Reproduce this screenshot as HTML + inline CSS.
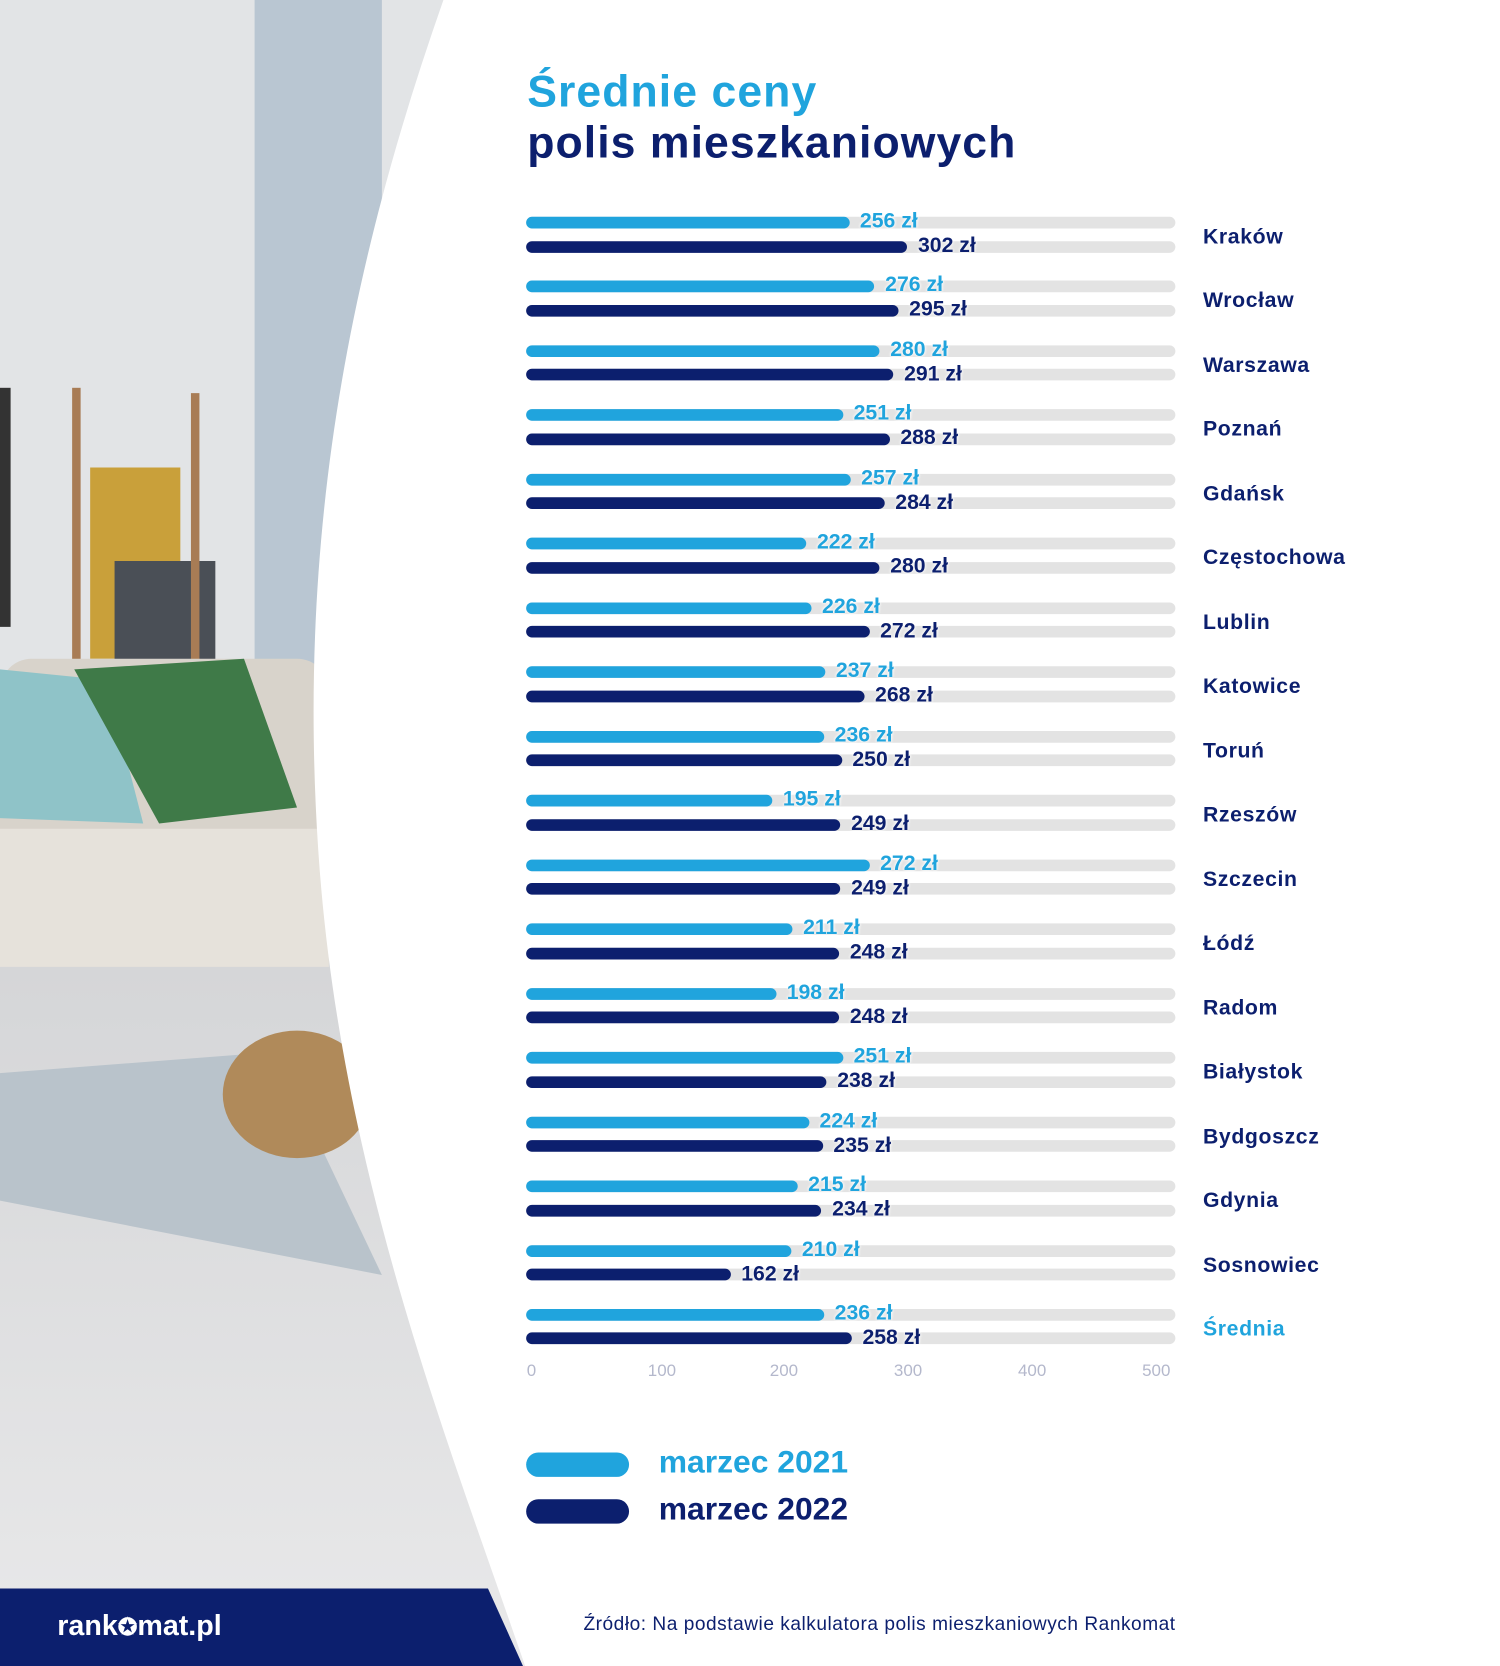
<!DOCTYPE html>
<html><head><meta charset="utf-8"><style>
html,body{margin:0;padding:0;width:1500px;height:1666px;overflow:hidden;background:#fff}
#w{position:absolute;left:0;top:0;width:1414px;height:1568px;transform:scale(1.0608,1.0625);transform-origin:0 0;font-family:"Liberation Sans",sans-serif}
.t{position:absolute;height:11px;border-radius:6px;background:#e3e3e3;left:496px;width:612px}
.b{position:absolute;height:11px;border-radius:6px;left:496px}
.l{background:#20a4dd}.d{background:#0c1f6e}
.v{position:absolute;font-weight:bold;font-size:20px;line-height:20px;white-space:nowrap;text-shadow:0 0 3px #fff,0 0 3px #fff}
.vl{color:#20a4dd}.vd{color:#0c1f6e}
.c{position:absolute;left:1134px;font-weight:bold;font-size:20px;color:#0c1f6e;line-height:20px;letter-spacing:0.6px}
.ax{position:absolute;top:1282px;font-size:16px;color:#b4b8cc;transform:translateX(-50%)}
</style></head><body><div id="w">
<svg width="1414" height="1568" style="position:absolute;left:0;top:0">
<defs><linearGradient id="fl" x1="0" y1="0" x2="0" y2="1"><stop offset="0" stop-color="#d4d5d7"/><stop offset="1" stop-color="#e9e9ea"/></linearGradient></defs>
<rect x="0" y="0" width="500" height="1568" fill="#e2e4e6"/>
<rect x="240" y="0" width="120" height="700" fill="#b9c6d2"/>
<rect x="0" y="880" width="500" height="688" fill="url(#fl)"/>
<polygon points="0,1010 260,990 360,1200 0,1130" fill="#b9c3cb"/>
<rect x="0" y="365" width="10" height="225" fill="#333"/>
<rect x="85" y="440" width="85" height="180" fill="#c9a03a"/>
<rect x="108" y="528" width="95" height="95" fill="#4a4f56"/>
<rect x="68" y="365" width="8" height="260" fill="#a87c55"/>
<rect x="180" y="370" width="8" height="255" fill="#a87c55"/>
<rect x="0" y="620" width="310" height="290" rx="30" fill="#d8d3cb"/>
<rect x="0" y="780" width="310" height="130" fill="#e6e2db"/>
<polygon points="0,630 100,640 135,775 0,770" fill="#8fc3c8"/>
<polygon points="70,630 230,620 280,760 150,775" fill="#3f7a48"/>
<ellipse cx="280" cy="1030" rx="70" ry="60" fill="#b08a5a"/>
<path d="M418,0 C330,250 280,500 300,800 C320,1100 420,1350 495,1568 L1414,1568 L1414,0 Z" fill="#fff"/>
<polygon points="0,1495 460,1495 493,1568 0,1568" fill="#0c1f6e"/>
</svg>
<div style="position:absolute;left:54px;top:1515px;color:#fff;font-weight:bold;font-size:27px">rank<span style="font-size:22px">✪</span>mat.pl</div>
<div style="position:absolute;left:497px;top:62px;font-weight:bold;font-size:42px;color:#20a4dd;line-height:48px;letter-spacing:1px">Średnie ceny</div>
<div style="position:absolute;left:497px;top:110px;font-weight:bold;font-size:42px;color:#0c1f6e;line-height:48px;letter-spacing:1px">polis mieszkaniowych</div>
<div id="rows"></div>
<div class="ax" style="left:501px">0</div><div class="ax" style="left:624px">100</div><div class="ax" style="left:739px">200</div><div class="ax" style="left:856px">300</div><div class="ax" style="left:973px">400</div><div class="ax" style="left:1090px">500</div>
<div style="position:absolute;left:496px;top:1367px;width:97px;height:23px;border-radius:12px;background:#20a4dd"></div>
<div style="position:absolute;left:496px;top:1411px;width:97px;height:23px;border-radius:12px;background:#0c1f6e"></div>
<div style="position:absolute;left:621px;top:1360px;font-weight:bold;font-size:30px;color:#20a4dd">marzec 2021</div>
<div style="position:absolute;left:621px;top:1404px;font-weight:bold;font-size:30px;color:#0c1f6e">marzec 2022</div>
<div style="position:absolute;left:550px;top:1518px;font-size:18px;color:#0c1f6e;letter-spacing:0.5px">Źródło: Na podstawie kalkulatora polis mieszkaniowych Rankomat</div>
<script>
var d=[["Kraków",256,302],["Wrocław",276,295],["Warszawa",280,291],["Poznań",251,288],["Gdańsk",257,284],["Częstochowa",222,280],["Lublin",226,272],["Katowice",237,268],["Toruń",236,250],["Rzeszów",195,249],["Szczecin",272,249],["Łódź",211,248],["Radom",198,248],["Białystok",251,238],["Bydgoszcz",224,235],["Gdynia",215,234],["Sosnowiec",210,162],["Średnia",236,258]];
var h="";d.forEach(function(r,i){var y=204+i*60.47;var a=r[1]*1.19,b=r[2]*1.19;
h+='<div class="t" style="top:'+y+'px"></div><div class="t" style="top:'+(y+22.5)+'px"></div>';
h+='<div class="b l" style="top:'+y+'px;width:'+a+'px"></div><div class="b d" style="top:'+(y+22.5)+'px;width:'+b+'px"></div>';
h+='<div class="v vl" style="top:'+(y-6)+'px;left:'+(496+a+10)+'px">'+r[1]+' zł</div>';
h+='<div class="v vd" style="top:'+(y+17)+'px;left:'+(496+b+10)+'px">'+r[2]+' zł</div>';
h+='<div class="c" style="top:'+(y+9)+'px'+(i==17?';color:#20a4dd':'')+'">'+r[0]+'</div>';});
document.getElementById("rows").innerHTML=h;
</script>
</div></body></html>
